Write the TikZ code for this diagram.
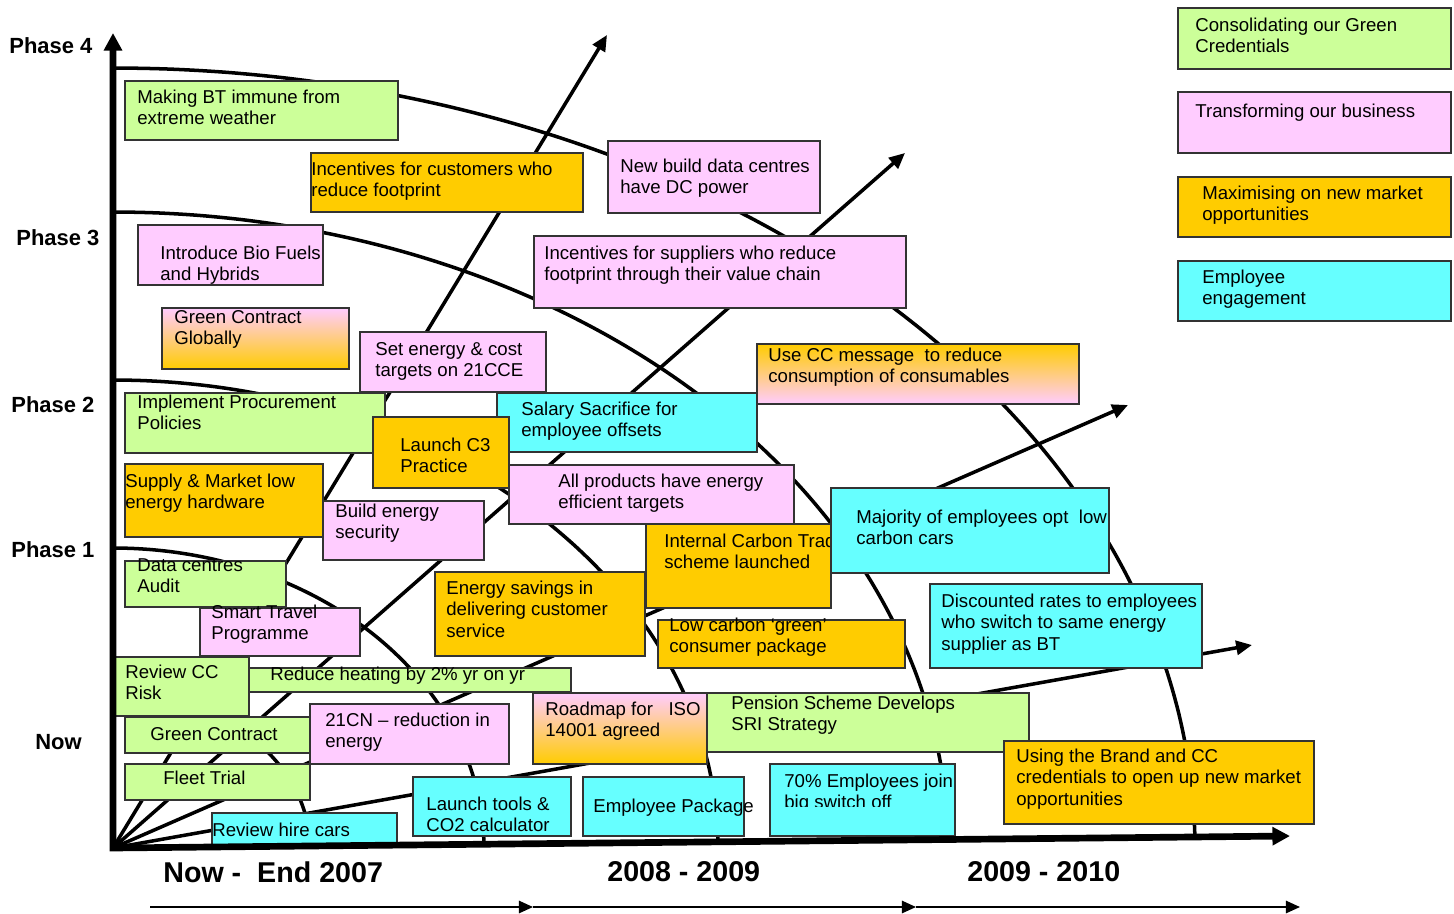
\documentclass[tikz,border=0pt]{standalone}
\usepackage{fontspec}
\setmainfont{Liberation Sans}
\usetikzlibrary{arrows.meta}
\definecolor{cgreen}{HTML}{CCFF99}
\definecolor{cpink}{HTML}{FFCCFF}
\definecolor{corange}{HTML}{FFCC00}
\definecolor{ccyan}{HTML}{66FFFF}
\tikzset{
  box/.style={draw=black!80, line width=1pt},
  txt/.style={anchor=north west, inner sep=0pt, align=left,
    font=\fontsize{10.6}{12}\selectfont, execute at begin node=\strut},
  phaselbl/.style={anchor=west, inner sep=0pt, font=\fontsize{12.5}{15}\selectfont\bfseries},
  periodlbl/.style={anchor=west, inner sep=0pt, font=\fontsize{16.3}{19}\selectfont\bfseries},
  track/.style={line width=2pt, -{Triangle[length=9pt,width=8pt]}},
  phase/.style={line width=2pt},
}
\begin{document}
\begin{tikzpicture}[x=0.02cm, y=-0.02cm]
\useasboundingbox (0,0) rectangle (1454,913);
\coordinate (O) at (113,848);
% phase curves
\foreach \a/\b in {197/155, 371/300, 605/468, 835/636, 1082/780}
  \draw[phase] plot[domain=1:90, samples=60, smooth] ({113+\a*cos(\x)}, {848-\b*sin(\x)});
% tracks out of the origin
\foreach \tx/\ty in {607/35, 905/153, 1128/405, 1252/645}
  \draw[track] (O) -- (\tx,\ty);

% legend
\draw[box, fill=cgreen] (1178,8) rectangle (1451,69);
\node[txt] (lgreen) at (1195,18) {Consolidating our Green\\Credentials};
\draw[box, fill=cpink] (1178,92) rectangle (1451,153);
\node[txt] (lpink) at (1195,102) {Transforming our business};
\draw[box, fill=corange] (1178,177) rectangle (1451,237);
\node[txt] (lorange) at (1202,186) {Maximising on new market\\opportunities};
\draw[box, fill=ccyan] (1178,261) rectangle (1451,321);
\node[txt] (lcyan) at (1202,270) {Employee\\engagement};

% phase 4 and 3 items
\draw[box, fill=cgreen] (125,81) rectangle (398,140);
\node[txt] (weather) at (137,90) {Making BT immune from\\extreme weather};
\draw[box, fill=corange] (311,153) rectangle (583,212);
\node[txt] (custinc) at (311,162) {Incentives for customers who\\reduce footprint};
\draw[box, fill=cpink] (608,141) rectangle (820,213);
\node[txt] (dcpower) at (620,159) {New build data centres\\have DC power};
\draw[box, fill=cpink] (138,225) rectangle (323,285);
\node[txt] (biofuel) at (160,246) {Introduce Bio Fuels\\and Hybrids};
\draw[box, fill=cpink] (534,236) rectangle (906,308);
\node[txt] (suppinc) at (544,246) {Incentives for suppliers who reduce\\footprint through their value chain};
\draw[box, top color=cpink, bottom color=corange] (162,308) rectangle (349,369);
\node[txt] (gcglobal) at (174,310) {Green Contract\\Globally};
\draw[box, fill=cpink] (360,332) rectangle (546,392);
\node[txt] (targets) at (375,342) {Set energy \& cost\\targets on 21CCE};
\draw[box, top color=corange, bottom color=cpink] (757,344) rectangle (1079,404);
\node[txt] (ccmsg) at (768,348) {Use CC message\ \ to reduce\\consumption of consumables};

% phase 2 items
\draw[box, fill=cgreen] (125,393) rectangle (385,453);
\node[txt] (procure) at (137,395) {Implement Procurement\\Policies};
\draw[box, fill=ccyan] (497,393) rectangle (757,452);
\node[txt] (salary) at (521,402) {Salary Sacrifice for\\employee offsets};
\draw[box, fill=corange] (373,417) rectangle (509,488);
\node[txt] (c3) at (400,438) {Launch C3\\Practice};
\draw[box, fill=corange] (125,464) rectangle (323,537);
\node[txt] (lowhw) at (125,474) {Supply \& Market low\\energy hardware};
\draw[box, fill=cpink] (509,465) rectangle (794,524);
\node[txt] (allprod) at (558,474) {All products have energy\\efficient targets};
\draw[box, fill=cpink] (323,501) rectangle (484,560);
\node[txt] (security) at (335,504) {Build energy\\security};
\draw[box, fill=corange] (646,524) rectangle (831,608);
\node[txt] (carbontrade) at (664,534) {Internal Carbon Trading\\scheme launched};
\draw[box, fill=ccyan] (831,488) rectangle (1109,573);
\node[txt] (lowcars) at (856,510) {Majority of employees opt\ \ low\\carbon cars};

% phase 1 items
\draw[box, fill=cgreen] (125,561) rectangle (286,607);
\node[txt] (dcaudit) at (137,558) {Data centres\\Audit};
\draw[box, fill=corange] (435,572) rectangle (645,656);
\node[txt] (energysave) at (446,581) {Energy savings in\\delivering customer\\service};
\draw[box, fill=ccyan] (930,584) rectangle (1202,668);
\node[txt] (discount) at (941,594) {Discounted rates to employees\\who switch to same energy\\supplier as BT};
\draw[box, fill=cpink] (200,608) rectangle (360,656);
\node[txt] (travel) at (211,605) {Smart Travel\\Programme};
\draw[box, fill=corange] (658,620) rectangle (905,668);
\node[txt] (greenpkg) at (669,618) {Low carbon ‘green’\\consumer package};

% now items
\draw[box, fill=cgreen] (113,657) rectangle (249,716);
\node[txt] (ccrisk) at (125,665) {Review CC\\Risk};
\draw[box, fill=cgreen] (249,668) rectangle (571,692);
\node[txt] (heating) at (270,665) {Reduce heating by 2\% yr on yr};
\draw[box, fill=cpink] (310,704) rectangle (509,764);
\node[txt] (cn21) at (325,713) {21CN – reduction in\\energy};
\draw[box, top color=cpink, bottom color=corange] (533,693) rectangle (707,764);
\node[txt] (iso) at (545,702) {Roadmap for\ \ \ ISO\\14001 agreed};
\draw[box, fill=cgreen] (707,693) rectangle (1029,752);
\node[txt] (pension) at (731,696) {Pension Scheme Develops\\SRI Strategy};
\draw[box, fill=corange] (1004,741) rectangle (1314,824);
\node[txt] (brand) at (1016,749) {Using the Brand and CC\\credentials to open up new market\\opportunities};
\draw[box, fill=cgreen] (125,717) rectangle (310,753);
\node[txt] (gcontract) at (150,725) {Green Contract};
\draw[box, fill=cgreen] (125,764) rectangle (310,800);
\node[txt] (fleet) at (163,769) {Fleet Trial};
\draw[box, fill=ccyan] (770,764) rectangle (955,836);
\begin{scope}
  \clip (770,764) rectangle (955,806);
  \node[txt] (switchoff) at (784,774) {70\% Employees join\\big switch off};
\end{scope}
\draw[box, fill=ccyan] (413,777) rectangle (571,836);
\node[txt, anchor=north, align=center] (tools) at (488,797) {Launch tools \&\\CO2 calculator};
\draw[box, fill=ccyan] (583,777) rectangle (744,836);
\node[txt] (package) at (593,797) {Employee Package};
\draw[box, fill=ccyan] (212,813) rectangle (397,847);
\node[txt] (hirecars) at (212,821) {Review hire cars};

% axes
\draw[line width=3.8pt, line join=miter, {Triangle[length=10pt,width=10pt]}-{Triangle[length=10pt,width=10pt]}]
  (113,33) -- (O) -- (1290,836);

% phase labels
\node[phaselbl] (p4) at (9,46) {Phase 4};
\node[phaselbl] (p3) at (16,238) {Phase 3};
\node[phaselbl] (p2) at (11,405) {Phase 2};
\node[phaselbl] (p1) at (11,550) {Phase 1};
\node[phaselbl] (pnow) at (35,742) {Now};

% periods
\node[periodlbl] (t1) at (163,872) {Now -\ \ End 2007};
\node[periodlbl] (t2) at (607,872) {2008 - 2009};
\node[periodlbl] (t3) at (967,872) {2009 - 2010};
\foreach \s/\e in {150/533, 533/916, 916/1300}
  \draw[line width=1.1pt, -{Triangle[length=8pt,width=7pt]}] (\s,907) -- (\e,907);
\end{tikzpicture}
\end{document}
